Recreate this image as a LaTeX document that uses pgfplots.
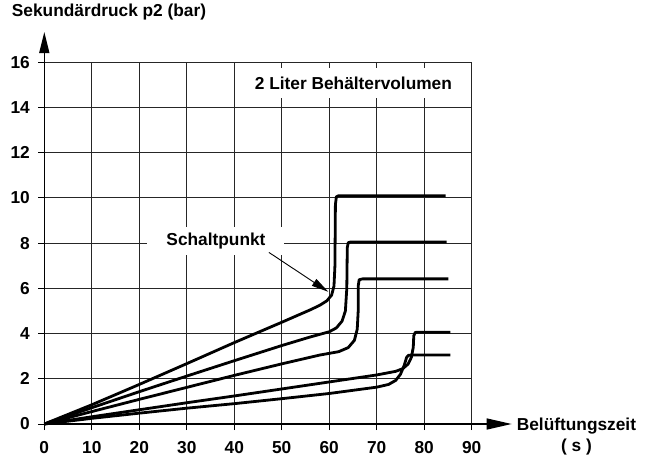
\documentclass[border=0pt]{standalone}
\usepackage{fontspec}
\setmainfont{Liberation Sans}
\usepackage{pgfplots}
\pgfplotsset{compat=1.18}
\usetikzlibrary{arrows.meta}

\begin{document}
\begin{tikzpicture}
\useasboundingbox (-44.3pt,-32pt) rectangle (608.7pt,424pt);
\begin{axis}[
  at={(0pt,0pt)}, anchor=origin,
  scale only axis, width=427.4pt, height=361.7pt,
  xmin=0, xmax=90, ymin=0, ymax=16,
  xtick={0,10,...,90}, ytick={0,2,...,16},
  grid=major, grid style={black!85, line width=1pt},
  axis line style={black!85, line width=1pt},
  tick align=outside, xtick pos=bottom, ytick pos=left,
  major tick length=6pt, tick style={black, line width=1pt},
  /pgf/number format/assume math mode=true,
  ticklabel style={font=\fontsize{17.3}{20}\selectfont\bfseries},
  yticklabel style={anchor=east, inner sep=0pt, xshift=-8.3pt},
  xticklabel style={anchor=base, inner sep=0pt, yshift=-23.6pt},
  ylabel={Sekundärdruck p2 (bar)},
  ylabel style={rotate=-90, at={(rel axis cs:-0.0762,1.127)}, anchor=base west, inner sep=0pt, font=\fontsize{17.3}{20}\selectfont\bfseries},
  xlabel={Belüftungszeit\\( s )},
  xlabel style={align=center, at={(rel axis cs:1.1052,0.0175)}, anchor=north west, inner sep=0pt, font=\fontsize{17.3}{20.8}\selectfont\bfseries},
  clip=false,
]
% 10 bar
\addplot[black, line width=2.8pt, line join=round] coordinates {
(0,0) (10,0.85) (20,1.75) (30,2.67) (40,3.6) (50,4.5) (56,5.05) (58,5.25) (59.5,5.45) (60.5,5.7) (61.0,6.1) (61.2,7) (61.3,9.7) (61.5,10.05) (62,10.1) (84.5,10.1)};
% 8 bar
\addplot[black, line width=2.8pt, line join=round] coordinates {
(0,0) (10,0.72) (20,1.43) (30,2.12) (40,2.8) (50,3.47) (56,3.85) (60,4.08) (61.5,4.25) (62.7,4.55) (63.4,5.0) (63.7,6) (63.8,7.8) (64.0,8.02) (64.5,8.05) (84.7,8.05)};
% 6.4 bar
\addplot[black, line width=2.8pt, line join=round] coordinates {
(0,0) (10,0.55) (20,1.09) (30,1.62) (40,2.15) (50,2.66) (58,3.05) (62,3.2) (64,3.38) (65.3,3.7) (65.9,4.2) (66.1,5.0) (66.1,6.1) (66.3,6.38) (67,6.42) (85.1,6.42)};
% 4 bar
\addplot[black, line width=2.8pt, line join=round] coordinates {
(0,0) (10,0.32) (20,0.63) (30,0.94) (40,1.24) (50,1.55) (60,1.86) (70,2.17) (74,2.33) (75.5,2.45) (76.6,2.65) (77.3,2.95) (77.7,3.4) (77.8,3.9) (78.1,4.05) (78.6,4.06) (85.5,4.06)};
% 3 bar
\addplot[black, line width=2.8pt, line join=round] coordinates {
(0,0) (10,0.25) (20,0.48) (30,0.7) (40,0.9) (50,1.12) (60,1.35) (70,1.63) (72.5,1.75) (74,1.93) (75,2.2) (75.8,2.6) (76.3,2.95) (76.7,3.04) (77.3,3.05) (85.5,3.05)};

\draw[line width=1.4pt, -{Triangle[length=21pt,width=10pt]}] (axis cs:0,0) -- (axis cs:0,17.34);
\draw[line width=1.4pt, -{Triangle[length=25pt,width=11pt]}] (axis cs:0,0) -- (axis cs:98.42,0);

\node[fill=white, inner sep=0pt, minimum width=137pt, minimum height=28pt, font=\fontsize{17.3}{20}\selectfont\bfseries] at (axis cs:36.15,8.11) {Schaltpunkt};
\draw[line width=0.9pt, -{Triangle[length=17pt,width=8pt]}] (axis cs:47.3,7.59) -- (axis cs:59.8,5.85);
\node[fill=white, inner sep=0pt, minimum width=225pt, minimum height=30pt, font=\fontsize{17.3}{20}\selectfont\bfseries] at (axis cs:65.09,15.08) {2 Liter Behältervolumen};
\end{axis}
\end{tikzpicture}
\end{document}
